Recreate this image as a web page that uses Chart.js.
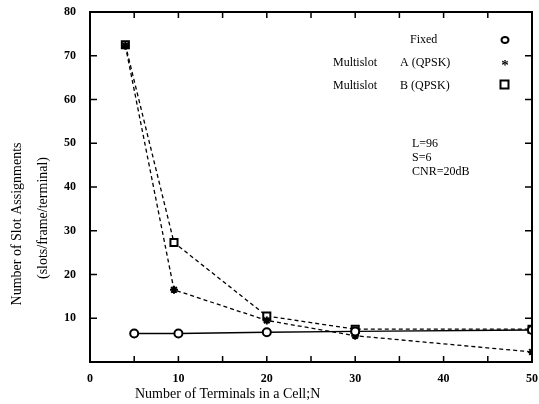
<!DOCTYPE html>
<html>
<head>
<meta charset="utf-8">
<script src="https://cdn.jsdelivr.net/npm/chart.js@4"></script>
<style>
  html, body { margin: 0; padding: 0; background: #fff; }
  #wrap { width: 539px; height: 404px; }
</style>
</head>
<body>
<div id="wrap"><canvas id="chart"></canvas></div>
<script>
var FONT = '"Liberation Serif", "DejaVu Serif", serif';

var fixedX = [5, 10, 20, 30, 50];
var fixedY = [6.5, 6.5, 6.8, 7.0, 7.3];
var multiAX = [4, 9.5, 20, 30, 50];
var multiAY = [72.3, 16.5, 9.5, 6.0, 2.3];
var multiBX = [4, 9.5, 20, 30, 50];
var multiBY = [72.5, 27.3, 10.5, 7.5, 7.5];

var xTicks = [0, 10, 20, 30, 40, 50];
var yTicks = [10, 20, 30, 40, 50, 60, 70, 80];

function pts(xs, ys) {
  return xs.map(function(x, i) { return { x: x, y: ys[i] }; });
}

// box, inward ticks, titles, in-plot legend and notes
var decor = {
  id: 'decor',
  afterDraw: function(chart) {
    var c = chart.ctx, a = chart.chartArea;
    var xs = chart.scales.x, ys = chart.scales.y;
    c.save();
    c.strokeStyle = '#000';
    c.lineWidth = 2;
    c.strokeRect(a.left, a.top, a.right - a.left, a.bottom - a.top);
    c.lineWidth = 1.5;
    c.beginPath();
    for (var v = 5; v < 50; v += 5) {
      var px = xs.getPixelForValue(v);
      c.moveTo(px, a.bottom); c.lineTo(px, a.bottom - 6);
      c.moveTo(px, a.top); c.lineTo(px, a.top + 6);
    }
    for (var w = 10; w < 80; w += 10) {
      var py = ys.getPixelForValue(w);
      c.moveTo(a.left, py); c.lineTo(a.left + 7, py);
      c.moveTo(a.right, py); c.lineTo(a.right - 7, py);
    }
    c.stroke();

    c.fillStyle = '#000';
    c.font = '14px ' + FONT;
    c.textBaseline = 'middle';
    c.textAlign = 'left';
    c.fillText('Number of Terminals in a Cell;N', 135, 394);

    c.save();
    c.translate(17, 224);
    c.rotate(-Math.PI / 2);
    c.textAlign = 'center';
    c.fillText('Number of Slot Assignments', 0, 0);
    c.restore();
    c.save();
    c.translate(43, 218);
    c.rotate(-Math.PI / 2);
    c.textAlign = 'center';
    c.fillText('(slots/frame/terminal)', 0, 0);
    c.restore();

    c.font = '12px ' + FONT;
    c.textAlign = 'left';
    c.fillText('Fixed', 410, 40);
    c.fillText('Multislot', 333, 63);
    c.fillText('A (QPSK)', 400, 63);
    c.fillText('Multislot', 333, 86);
    c.fillText('B (QPSK)', 400, 86);
    c.fillText('L=96', 412, 144);
    c.fillText('S=6', 412, 158);
    c.fillText('CNR=20dB', 412, 172);

    // legend symbols
    c.lineWidth = 2;
    c.beginPath();
    c.ellipse(505, 40, 3.5, 3, 0, 0, Math.PI * 2);
    c.stroke();
    c.font = 'bold 15px ' + FONT;
    c.textAlign = 'center';
    c.fillText('*', 505, 66);
    c.strokeRect(500.5, 80.5, 8, 8);
    c.restore();
  }
};

new Chart(document.getElementById('chart'), {
  type: 'scatter',
  data: {
    datasets: [
      {
        label: 'Fixed',
        data: pts(fixedX, fixedY),
        showLine: true,
        borderColor: '#000',
        borderWidth: 1.5,
        pointStyle: 'circle',
        pointRadius: 4,
        pointBorderWidth: 2,
        pointBackgroundColor: '#fff',
        pointBorderColor: '#000'
      },
      {
        label: 'Multislot A (QPSK)',
        data: pts(multiAX, multiAY),
        showLine: true,
        borderColor: '#000',
        borderWidth: 1.3,
        borderDash: [4, 3],
        pointStyle: 'star',
        pointRadius: 4,
        pointBorderWidth: 2,
        pointBorderColor: '#000'
      },
      {
        label: 'Multislot B (QPSK)',
        data: pts(multiBX, multiBY),
        showLine: true,
        borderColor: '#000',
        borderWidth: 1.3,
        borderDash: [4, 3],
        pointStyle: 'rect',
        pointRadius: 5,
        pointBorderWidth: 2,
        pointBackgroundColor: '#fff',
        pointBorderColor: '#000'
      }
    ]
  },
  options: {
    responsive: true,
    maintainAspectRatio: false,
    animation: false,
    layout: { padding: { top: 12, right: 4, left: 0, bottom: 0 } },
    plugins: {
      legend: { display: false },
      tooltip: { enabled: false }
    },
    scales: {
      x: {
        type: 'linear',
        min: 0,
        max: 50,
        afterFit: function(s) { s.height = 42; s.paddingLeft = 0; s.paddingRight = 0; },
        afterBuildTicks: function(s) { s.ticks = xTicks.map(function(v) { return { value: v }; }); },
        grid: { display: false, drawTicks: false },
        border: { display: false },
        ticks: {
          padding: 10,
          color: '#000',
          font: { family: FONT, size: 12, weight: 'bold' }
        }
      },
      y: {
        type: 'linear',
        min: 0,
        max: 80,
        afterFit: function(s) { s.width = 90; s.paddingTop = 0; s.paddingBottom = 0; },
        afterBuildTicks: function(s) { s.ticks = yTicks.map(function(v) { return { value: v }; }); },
        grid: { display: false, drawTicks: false },
        border: { display: false },
        ticks: {
          padding: 14,
          color: '#000',
          font: { family: FONT, size: 12, weight: 'bold' }
        }
      }
    }
  },
  plugins: [decor]
});
</script>
</body>
</html>
